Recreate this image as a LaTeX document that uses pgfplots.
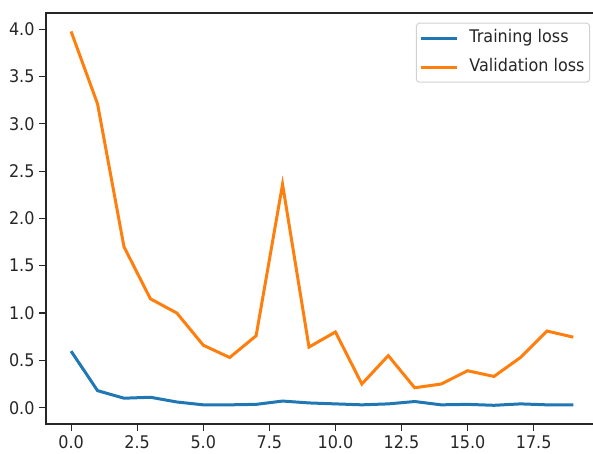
\documentclass[border=0pt]{standalone}
\usepackage{pgfplots}
\pgfplotsset{compat=1.18}
\usepackage{fontspec}
\setmainfont{DejaVu Sans}[FakeStretch=0.92]
\definecolor{tabblue}{HTML}{1F77B4}
\definecolor{taborange}{HTML}{FF7F0E}
\begin{document}
\begin{tikzpicture}
\begin{axis}[
  name=ax,
  scale only axis,
  width=552.4pt, height=411pt,
  xmin=-0.95, xmax=19.95,
  ymin=-0.1725, ymax=4.17,
  axis line style={black!85, line width=1.1pt},
  xtick={0,2.5,5,7.5,10,12.5,15,17.5},
  ytick={0,0.5,1,1.5,2,2.5,3,3.5,4},
  tick align=outside,
  tick pos=left,
  major tick length=7pt,
  tick style={black!85, line width=1.1pt},
  ticklabel style={font=\fontsize{17.4}{20}\selectfont, text=black!85,
    /pgf/number format/fixed, /pgf/number format/fixed zerofill,
    /pgf/number format/precision=1, /pgf/number format/assume math mode=true},
  xticklabel style={yshift=-1pt},
  yticklabel style={xshift=-1pt},
  legend style={at={(1,1)}, anchor=north east, xshift=-8.4pt, yshift=-9.7pt,
    draw=black!18, line width=1pt, rounded corners=3pt, fill=white, fill opacity=0.8, text opacity=1,
    font=\fontsize{17.4}{20}\selectfont, text=black!85,
    inner xsep=3pt, inner ysep=5pt, row sep=9pt,
    nodes={inner sep=2pt, text height=12.5pt, text depth=3.5pt}},
  legend cell align=left,
  legend image code/.code={\draw[#1] (0pt,0pt) -- (36pt,0pt); \path (45pt,0pt);},
]
\addplot[tabblue, line width=3pt] coordinates {
(0,0.597) (1,0.18) (2,0.10) (3,0.11) (4,0.06) (5,0.03) (6,0.03) (7,0.035) (8,0.07) (9,0.05)
(10,0.04) (11,0.03) (12,0.04) (13,0.065) (14,0.03) (15,0.035) (16,0.025) (17,0.04) (18,0.03) (19,0.03)};
\addlegendentry{Training loss}
\addplot[taborange, line width=3pt] coordinates {
(0,3.975) (1,3.21) (2,1.70) (3,1.15) (4,1.00) (5,0.66) (6,0.53) (7,0.76) (8,2.36) (9,0.64)
(10,0.80) (11,0.25) (12,0.55) (13,0.21) (14,0.25) (15,0.39) (16,0.33) (17,0.53) (18,0.81) (19,0.745)};
\addlegendentry{Validation loss}
\end{axis}
\pgfresetboundingbox
\path[use as bounding box] (ax.south west) ++(-46pt,-30pt) rectangle ++(593pt,454pt);
\end{tikzpicture}
\end{document}
